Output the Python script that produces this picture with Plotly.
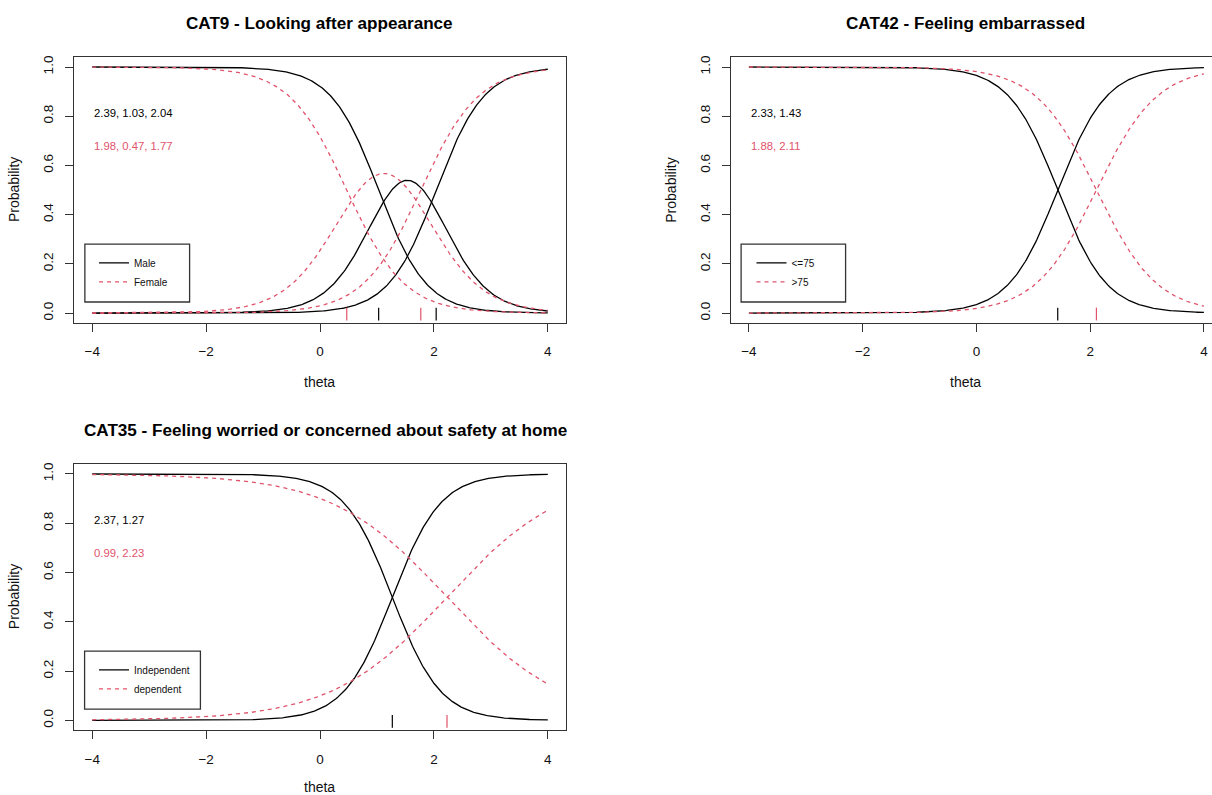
import numpy as np
import plotly.graph_objects as go

# ---------------- data (item parameters printed on the chart) ----------------
titles = ["CAT9 - Looking after appearance",
          "CAT42 - Feeling embarrassed",
          "CAT35 - Feeling worried or concerned about safety at home"]
group_names = [["Male", "Female"], ["<=75", ">75"], ["Independent", "dependent"]]
# discrimination a and thresholds b for group 1 (black) / group 2 (red)
cat9_g1_a, cat9_g1_b = 2.39, [1.03, 2.04]
cat9_g2_a, cat9_g2_b = 1.98, [0.47, 1.77]
cat42_g1_a, cat42_g1_b = 2.33, [1.43]
cat42_g2_a, cat42_g2_b = 1.88, [2.11]
cat35_g1_a, cat35_g1_b = 2.37, [1.27]
cat35_g2_a, cat35_g2_b = 0.99, [2.23]
x_ticks = [-4, -2, 0, 2, 4]
y_ticks = [0.0, 0.2, 0.4, 0.6, 0.8, 1.0]

items = [
    [(cat9_g1_a, cat9_g1_b), (cat9_g2_a, cat9_g2_b)],
    [(cat42_g1_a, cat42_g1_b), (cat42_g2_a, cat42_g2_b)],
    [(cat35_g1_a, cat35_g1_b), (cat35_g2_a, cat35_g2_b)],
]

theta = np.linspace(-4, 4, 401)


def grm_curves(a, bs):
    """Graded response model category curves."""
    pstar = [np.ones_like(theta)] + [1 / (1 + np.exp(-a * (theta - b))) for b in bs] + [np.zeros_like(theta)]
    return [pstar[k] - pstar[k + 1] for k in range(len(bs) + 1)]


# ---------------- layout geometry ----------------
W, H = 1212, 795
BLACK = "#000000"
RED = "#DF536B"
FONT = "Liberation Sans, Arial, sans-serif"

# panel boxes in pixels: (left, right, top, bottom)
boxes = [(74, 566, 55.3, 321.7), (730.7, 1212, 55.3, 321.7), (74, 566, 463.3, 730)]
xranges = [[-4.32, 4.32], [-4.32, 4.32 - (1222.1 - 1212) / 56.875], [-4.32, 4.32]]
title_pos = [(320, 21.5), (965.5, 21.5), (325.5, 429.5)]
theta_dy = [59.5, 59.5, 57]
legend_boxes = [(-4.129, -2.29, 0.045, 0.28), (-4.137, -2.30, 0.045, 0.28), (-4.134, -2.10, 0.045, 0.281)]

fig = go.Figure()
annotations = []
shapes = []
layout_axes = {}

for p in range(3):
    xa = "x" if p == 0 else f"x{p+1}"
    ya = "y" if p == 0 else f"y{p+1}"
    leg = "legend" if p == 0 else f"legend{p+1}"
    colors = [BLACK, RED]
    dashes = ["solid", "4px,4px"]
    for g, (a, bs) in enumerate(items[p]):
        for k, curve in enumerate(grm_curves(a, bs)):
            fig.add_trace(go.Scatter(
                x=theta, y=curve, mode="lines", xaxis=xa, yaxis=ya,
                line=dict(color=colors[g], width=1.3, dash=dashes[g]),
                name=group_names[p][g], legend=leg, showlegend=(k == 0),
                hoverinfo="skip"))
        # rug ticks at thresholds
        rx, ry = [], []
        for b in bs:
            rx += [b, b, None]
            ry += [-0.03, 0.022, None]
        fig.add_trace(go.Scatter(x=rx, y=ry, mode="lines", xaxis=xa, yaxis=ya,
                                 line=dict(color=colors[g], width=1.2),
                                 showlegend=False, hoverinfo="skip"))
        # parameter text
        txt = ", ".join(f"{v:.2f}" for v in [a] + list(bs))
        annotations.append(dict(x=-4, y=[0.815, 0.68][g], xref=xa, yref=ya, text=txt,
                                showarrow=False, xanchor="left", yanchor="middle",
                                font=dict(family=FONT, size=11.3, color=colors[g])))

    l, r, t, b = boxes[p]
    xd = [l / W, r / W]
    yd = [1 - b / H, 1 - t / H]
    axkey = "xaxis" if p == 0 else f"xaxis{p+1}"
    aykey = "yaxis" if p == 0 else f"yaxis{p+1}"
    layout_axes[axkey] = dict(
        domain=xd, range=xranges[p], anchor=ya, tickmode="array", tickvals=x_ticks,
        showgrid=False, zeroline=False, showline=True, linecolor="#333333", linewidth=1.3,
        mirror=True, ticks="outside", ticklen=8, tickcolor="#333333", tickwidth=1.1,
        ticklabelstandoff=8,
        tickfont=dict(family=FONT, size=13.5, color="#111111"))
    layout_axes[aykey] = dict(
        domain=yd, range=[-0.04, 1.04], anchor=xa, tickmode="array", tickvals=y_ticks,
        ticktext=[f"{v:.1f}" for v in y_ticks],
        showgrid=False, zeroline=False, showline=True, linecolor="#333333", linewidth=1.3,
        mirror=(p != 1), ticks="outside", ticklen=8, tickcolor="#333333", tickwidth=1.1,
        tickangle=-90, ticklabelstandoff=6,
        tickfont=dict(family=FONT, size=13.5, color="#111111"))

    # title
    tx, ty = title_pos[p]
    annotations.append(dict(x=tx / W, y=1 - ty / H, xref="paper", yref="paper",
                            text=f"<b>{titles[p]}</b>", showarrow=False,
                            xanchor="center", yanchor="middle",
                            font=dict(family=FONT, size=17.1, color="#000000")))
    # axis titles
    annotations.append(dict(x=((l + r) / 2 if p != 1 else 965.5) / W,
                            y=1 - (b + theta_dy[p]) / H, xref="paper", yref="paper",
                            text="theta", showarrow=False, xanchor="center", yanchor="middle",
                            font=dict(family=FONT, size=14, color="#111111")))
    annotations.append(dict(x=(l - 60) / W, y=1 - (t + b) / 2 / H, xref="paper", yref="paper",
                            text="Probability", showarrow=False, textangle=-90,
                            xanchor="center", yanchor="middle",
                            font=dict(family=FONT, size=14, color="#111111")))
    # legend box
    x0, x1, y0, y1 = legend_boxes[p]
    shapes.append(dict(type="rect", xref=xa, yref=ya, x0=x0, x1=x1, y0=y0, y1=y1,
                       line=dict(color="#333333", width=1.3), fillcolor="rgba(0,0,0,0)"))

legend_common = dict(bgcolor="rgba(0,0,0,0)", borderwidth=0, xanchor="left", yanchor="top",
                     font=dict(family=FONT, size=10, color="#111111"), tracegroupgap=0,
                     itemclick=False, itemdoubleclick=False)
leg_tops = [247, 247, 655]
leg_lefts = [94, 751.5, 94]
legends = {}
for p in range(3):
    key = "legend" if p == 0 else f"legend{p+1}"
    legends[key] = dict(legend_common, x=leg_lefts[p] / W, y=1 - leg_tops[p] / H)

fig.update_layout(
    width=W, height=H, margin=dict(l=0, r=0, t=0, b=0),
    paper_bgcolor="white", plot_bgcolor="white",
    annotations=annotations, shapes=shapes,
    **layout_axes, **legends,
)

fig.write_html("out.html", config={"displayModeBar": False},
               post_script="document.body.style.margin='0px';document.body.style.overflow='hidden';")
